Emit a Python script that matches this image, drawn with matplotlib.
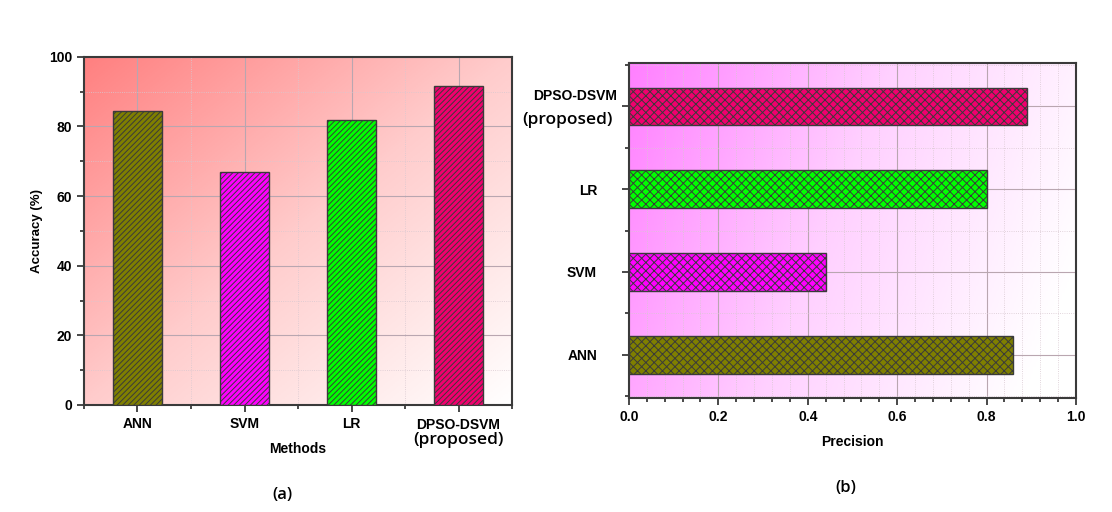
import numpy as np
import matplotlib
matplotlib.use('Agg')
from matplotlib import pyplot as plt
from matplotlib.colors import LinearSegmentedColormap
from matplotlib.ticker import MultipleLocator, FormatStrFormatter

methods = ['ANN', 'SVM', 'LR', 'DPSO-DSVM']
accuracy = [84.5, 67, 82, 91.5]
precision = [0.86, 0.44, 0.80, 0.89]
colors = ['#7f7f00', '#ff00ff', '#00ff00', '#f0006e']

plt.rcParams['font.family'] = ['Liberation Sans', 'DejaVu Sans']
plt.rcParams['hatch.linewidth'] = 0.7
calibri = ['Open Sans', 'DejaVu Sans']

fig = plt.figure(figsize=(11.12, 5.12), dpi=100)
ax1 = fig.add_axes([0.0755, 0.209, 0.385, 0.680])
ax2 = fig.add_axes([0.5656, 0.2227, 0.402, 0.654])

# gradient backgrounds
gx, gy = np.meshgrid(np.linspace(0, 1, 200), np.linspace(0, 1, 200))
red_map = LinearSegmentedColormap.from_list('r', ['#ff8080', '#ffcccc', '#ffffff'])
ax1.imshow((gx + gy) / 2, cmap=red_map, extent=[0, 1, 0, 1], origin='upper',
           transform=ax1.transAxes, aspect='auto', zorder=0)
mag_map = LinearSegmentedColormap.from_list('m', ['#ff80ff', '#ffd0ff', '#ffffff'])
ax2.imshow(np.clip(gx * 0.85 + gy * 0.25, 0, 1), cmap=mag_map, extent=[0, 1, 0, 1],
           origin='upper', transform=ax2.transAxes, aspect='auto', zorder=0)

spine_c = '#3a3a3a'
for ax in (ax1, ax2):
    for s in ax.spines.values():
        s.set_color(spine_c)
        s.set_linewidth(1.5)
    ax.tick_params(which='both', color=spine_c, width=1.3, direction='out')
    ax.tick_params(which='major', length=5)
    ax.tick_params(which='minor', length=3)
    ax.grid(True, which='major', color='#b9a6b0', linewidth=0.8, zorder=1)
    ax.grid(True, which='minor', color='#d8c8d0', linewidth=0.6, linestyle=':', zorder=1)
    ax.set_axisbelow(True)

# (a) accuracy
x = np.arange(len(methods))
ax1.bar(x, accuracy, width=0.45, color=colors, edgecolor='#3a3a3a',
        linewidth=1.0, hatch='//////', zorder=3)
ax1.set_xlim(-0.5, 3.5)
ax1.set_ylim(0, 100)
ax1.set_xticks(x)
ax1.set_xticklabels(['ANN', 'SVM', 'LR', ''], fontsize=10, fontweight='bold')
ax1.xaxis.set_minor_locator(MultipleLocator(0.5))
ax1.yaxis.set_major_locator(MultipleLocator(20))
ax1.yaxis.set_minor_locator(MultipleLocator(10))
for t in ax1.get_yticklabels():
    t.set_fontweight('bold')
    t.set_fontsize(10)
ax1.text(3, -3.6, 'DPSO-DSVM', ha='center', va='top', fontsize=10, fontweight='bold')
ax1.text(3, -7.9, '(proposed)', ha='center', va='top', fontsize=12.5,
         fontweight='semibold', family=calibri)
ax1.set_xlabel('Methods', fontsize=10, fontweight='bold', labelpad=8)
ax1.set_ylabel('Accuracy (%)', fontsize=9.5, fontweight='bold')

# (b) precision
ax2.barh(x, precision, height=0.45, color=colors, edgecolor='#3a3a3a',
         linewidth=1.0, hatch='xxxx', zorder=3)
ax2.set_xlim(0, 1.0)
ax2.set_ylim(-0.52, 3.52)
ax2.set_yticks(x)
ax2.set_yticklabels(['ANN', 'SVM', 'LR', ''], fontsize=10, fontweight='bold')
ax2.yaxis.set_minor_locator(MultipleLocator(0.5))
ax2.xaxis.set_major_locator(MultipleLocator(0.2))
ax2.xaxis.set_minor_locator(MultipleLocator(0.04))
ax2.xaxis.set_major_formatter(FormatStrFormatter('%.1f'))
for t in ax2.get_xticklabels():
    t.set_fontweight('bold')
    t.set_fontsize(10)
ax2.tick_params(axis='y', pad=18)
ax2.text(-0.027, 3.12, 'DPSO-DSVM', ha='right', va='center', fontsize=10,
         fontweight='bold', transform=ax2.get_yaxis_transform())
ax2.text(-0.037, 2.83, '(proposed)', ha='right', va='center', fontsize=12.5,
         fontweight='semibold', family=calibri, transform=ax2.get_yaxis_transform())
ax2.set_xlabel('Precision', fontsize=10, fontweight='bold', labelpad=8)

fig.text(282 / 1112, 1 - 495 / 512, '(a)', ha='center', va='center', fontsize=12,
         fontweight='semibold', family=calibri)
fig.text(846 / 1112, 1 - 488 / 512, '(b)', ha='center', va='center', fontsize=12,
         fontweight='semibold', family=calibri)

fig.savefig('out.png', dpi=100)
